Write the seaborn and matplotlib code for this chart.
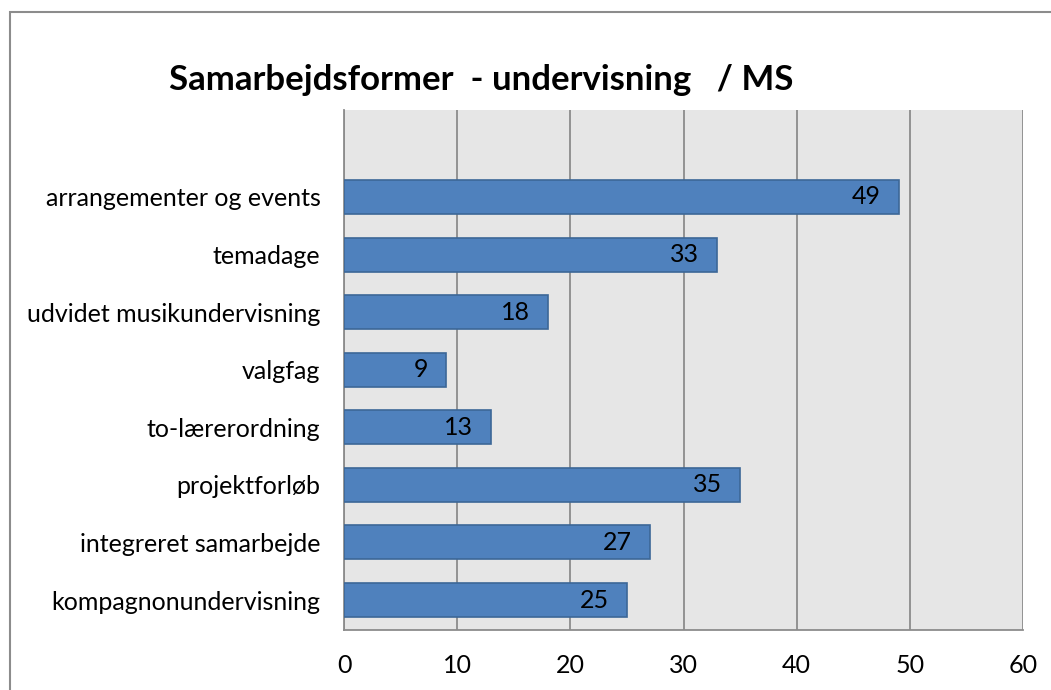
import matplotlib
matplotlib.use("Agg")
import matplotlib.pyplot as plt
import seaborn as sns
import pandas as pd
from matplotlib.patches import Rectangle

categories = ["arrangementer og events", "temadage", "udvidet musikundervisning",
              "valgfag", "to-lærerordning", "projektforløb",
              "integreret samarbejde", "kompagnonundervisning"]
values = [49, 33, 18, 9, 13, 35, 27, 25]
xticks = [0, 10, 20, 30, 40, 50, 60]
title = "Samarbejdsformer  - undervisning   / MS"

sns.set_theme(style="white")
plt.rcParams['font.family'] = ['Lato', 'DejaVu Sans']

W, H = 1051, 690
fig = plt.figure(figsize=(W / 100, H / 100), dpi=100)
ax = fig.add_axes([344 / W, 1 - 630 / H, (1023 - 344) / W, (630 - 110) / H])

df = pd.DataFrame({"cat": categories, "val": values})
sns.barplot(data=df, x="val", y="cat", orient="h", ax=ax, color="#4f81bd",
            saturation=1, width=0.59, edgecolor="#3c6797", linewidth=1.2, zorder=3)

ax.set_facecolor("#e6e6e6")
ax.set_xlim(0, 60)
ax.set_ylim(7.52, -1.51)
ax.set_xticks(xticks)
ax.set_xticklabels([str(t) for t in xticks], fontsize=18, color="black")
ax.tick_params(axis="x", length=0, pad=17)
ax.tick_params(axis="y", length=0, pad=17, labelsize=18, labelcolor="black")
ax.set_xlabel("")
ax.set_ylabel("")
ax.grid(axis="x", color="#8c8c8c", linewidth=1.3, zorder=0)
ax.grid(axis="y", visible=False)
ax.set_axisbelow(True)
for s in ["top", "right"]:
    ax.spines[s].set_visible(False)
for s in ["left", "bottom"]:
    ax.spines[s].set_color("#8c8c8c")
    ax.spines[s].set_linewidth(1.3)

for i, v in enumerate(values):
    ax.annotate(str(v), xy=(v, i), xytext=(-13, 0), textcoords="offset points",
                ha="right", va="center", fontsize=18, color="black", zorder=4)

fig.text(481 / W, 1 - 80 / H, title, ha="center", va="center",
         fontsize=25, fontweight="bold", color="black")

fig.patches.append(Rectangle((10 / W, -0.1), 1.2, 1 - 12 / H + 0.1,
                             transform=fig.transFigure, fill=False,
                             edgecolor="#8c8c8c", linewidth=1.5))

fig.savefig("out.png", dpi=100, facecolor="white")
